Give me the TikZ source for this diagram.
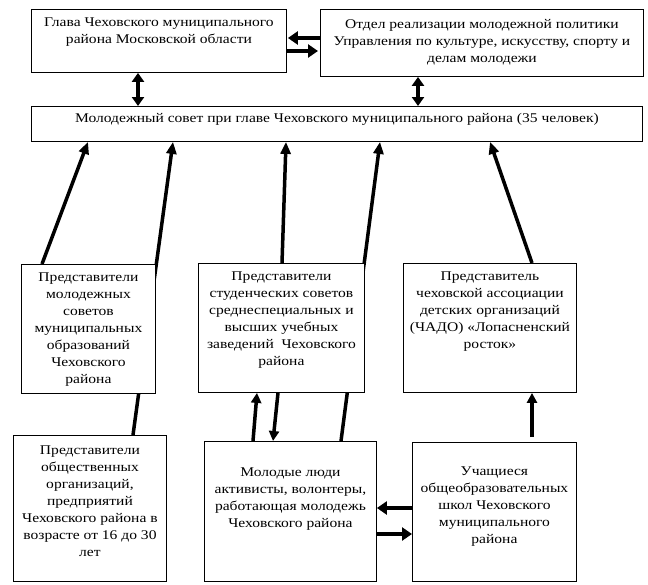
\documentclass[tikz,border=0pt]{standalone}
\usepackage{fontspec}
\setmainfont[FakeStretch=1.17]{Liberation Serif}
\usetikzlibrary{arrows.meta,calc,backgrounds}
\tikzset{
  box/.style={draw, line width=0.9pt, fill=white, anchor=north west, inner sep=0pt},
  txt/.style={align=center, anchor=north, inner sep=0pt, font=\fontsize{13.3}{17}\selectfont},
  uparr/.style={line width=3.5pt, -{Triangle[length=12pt,width=10pt]}},
  smarr/.style={line width=3.5pt, -{Triangle[length=10pt,width=10pt]}},
  darr/.style={line width=4pt, {Triangle[length=9pt,width=12pt]}-{Triangle[length=9pt,width=12pt]}},
  harr/.style={line width=4.5pt, -{Triangle[length=10pt,width=13pt]}}
}
\begin{document}
\begin{tikzpicture}[x=1pt,y=-1pt]
\useasboundingbox (0,0) rectangle (648,584);
% boxes
\node[box, minimum width=255pt, minimum height=63pt] (A) at (31,9) {};
\node[box, minimum width=323pt, minimum height=67pt] (B) at (320,9) {};
\node[box, minimum width=611pt, minimum height=35pt] (C) at (31,106) {};
\node[box, minimum width=134pt, minimum height=129pt] (D) at (21,264) {};
\node[box, minimum width=166pt, minimum height=129pt] (E) at (198,263) {};
\node[box, minimum width=173pt, minimum height=129pt] (F) at (403,263) {};
\node[box, minimum width=153pt, minimum height=146pt] (G) at (13,435) {};
\node[box, minimum width=172pt, minimum height=140pt] (H) at (204,441) {};
\node[box, minimum width=164pt, minimum height=139pt] (I) at (412,442) {};
% texts
\node[txt] (At) at ($(A.north)+(0,9)$) {Глава Чеховского муниципального\\района Московской области};
\node[txt] (Bt) at ($(B.north)+(0,10)$) {Отдел реализации молодежной политики\\Управления по культуре, искусству, спорту и\\делам молодежи};
\node[txt] (Ct) at ($(C.north)+(0,7)$) {Молодежный совет при главе Чеховского муниципального района (35 человек)};
\node[txt] (Dt) at ($(D.north)+(0,9)$) {Представители\\молодежных\\советов\\муниципальных\\образований\\Чеховского\\района};
\node[txt] (Et) at ($(E.north)+(0,9)$) {Представители\\студенческих советов\\среднеспециальных и\\высших учебных\\заведений\ \ Чеховского\\района};
\node[txt] (Ft) at ($(F.north)+(0,9)$) {Представитель\\чеховской ассоциации\\детских организаций\\(ЧАДО) «Лопасненский\\росток»};
\node[txt] (Gt) at ($(G.north)+(0,11)$) {Представители\\общественных\\организаций,\\предприятий\\Чеховского района в\\возрасте от 16 до 30\\лет};
\node[txt] (Ht) at ($(H.north)+(0,27)$) {Молодые люди\\активисты, волонтеры,\\работающая молодежь\\Чеховского района};
\node[txt] (It) at ($(I.north)+(0,25)$) {Учащиеся\\общеобразовательных\\школ Чеховского\\муниципального\\района};
\coordinate (I0) at ($(I.north west)+(120,-5)$);
% connectors
\begin{scope}[on background layer]
\draw[uparr] ($(D.north west)+(21,0)$) -- ($(C.south west)+(57,0)$);
\draw[uparr] ($(G.north west)+(120,0)$) -- ($(C.south west)+(142,0)$);
\draw[uparr] ($(E.north west)+(84,0)$) -- ($(C.south west)+(255,0)$);
\draw[uparr] ($(H.north west)+(137,0)$) -- ($(C.south west)+(349,0)$);
\draw[uparr] ($(F.north west)+(129,0)$) -- ($(C.south west)+(459,0)$);
\draw[smarr] ($(H.north west)+(49,0)$) -- ($(E.south west)+(59,0)$);
\draw[smarr] ($(E.south west)+(80,0)$) -- ($(H.north west)+(69,0)$);
\draw[smarr] (I0) -- ($(F.south west)+(129,0)$);
\draw[harr] ($(I.north west)+(0,66)$) -- ($(H.north east)+(0,67)$);
\draw[harr] ($(H.north east)+(-2,93)$) -- ($(I.north west)+(0,92)$);
\draw[darr] ($(A.south west)+(107,0)$) -- ($(C.north west)+(107,0)$);
\draw[darr] ($(B.south west)+(98,0)$) -- ($(C.north west)+(387,0)$);
\draw[harr] ($(B.north west)+(0,29)$) -- ($(A.north east)+(1,29)$);
\draw[harr] ($(A.north east)+(-1,42)$) -- ($(B.north west)+(-2,42)$);
\end{scope}
\end{tikzpicture}
\end{document}
